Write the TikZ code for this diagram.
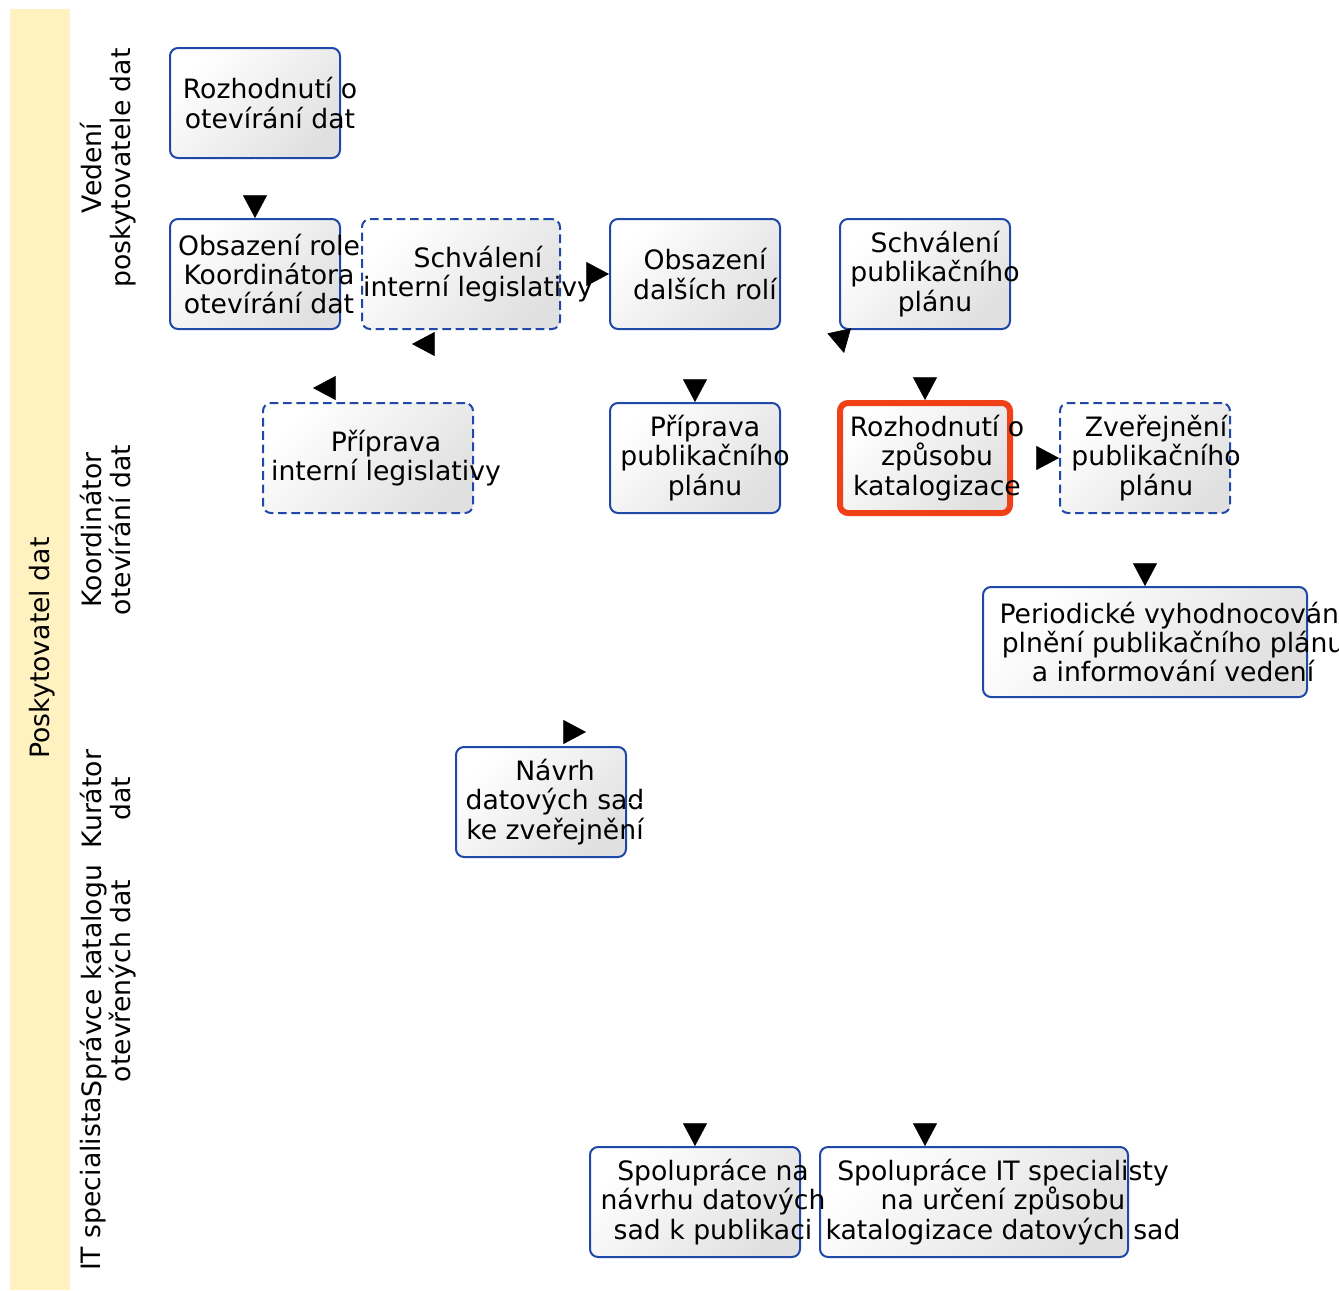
\documentclass[tikz,border=0pt]{standalone}
\usepackage{fontspec}
\setmainfont{DejaVu Sans}
\usepackage{tikz}
\usetikzlibrary{arrows.meta}
\definecolor{laneyellow}{RGB}{255,242,192}
\definecolor{boxblue}{RGB}{32,72,168}
\definecolor{boxred}{RGB}{240,64,24}

\begin{document}
\begin{tikzpicture}[x=0.75pt, y=-0.75pt,
  font=\fontsize{20}{22}\selectfont,
  task/.style={draw=boxblue, line width=1.5pt, rounded corners=6pt, top color=white, bottom color=black!12, shading angle=45, minimum width=127.5pt, minimum height=82.5pt, inner sep=0pt},
  dashtask/.style={task, dash pattern=on 6.5pt off 3.5pt},
  redtask/.style={task, draw=boxred, line width=4.5pt},
  txt/.style={align=center, inner sep=0pt},
  lane/.style={rotate=90, anchor=north, align=center, inner sep=0pt},
  flow/.style={draw=white, line width=0.4pt, -{Triangle[length=17pt, width=18pt, color=black, fill=black]}}]
\useasboundingbox (0,0) rectangle (1339,1290);
\fill[laneyellow] (10,9) rectangle (70,1290);
\node[rotate=90] (pool) at (42,648) {Poskytovatel dat};
\node[lane] (l1) at (80,168) {Vedení\\poskytovatele dat};
\node[lane] (l2) at (80,530) {Koordinátor\\otevírání dat};
\node[lane] (l3) at (80,799) {Kurátor\\dat};
\node[lane] (l4) at (80,981) {Správce katalogu\\otevřených dat};
\node[lane] (l5) at (80,1184) {IT specialista};

\node[task] (n1) at (255,103) {};
\node[task] (n2) at (255,274) {};
\node[dashtask, minimum width=148.5pt] (n3) at (461,274) {};
\node[task] (n4) at (695,274) {};
\node[task] (n5) at (925,274) {};
\node[dashtask, minimum width=157.5pt] (n6) at (368,458) {};
\node[task] (n7) at (695,458) {};
\node[redtask] (n8) at (925,458) {};
\node[dashtask] (n9) at (1145,458) {};
\node[task, minimum width=243pt] (n10) at (1145,642) {};
\node[task] (n11) at (541,802) {};
\node[task, minimum width=157.5pt] (n12) at (695,1202) {};
\node[task, minimum width=231pt] (n13) at (974,1202) {};

\node[txt] (n1t) at (270,103) {Rozhodnutí o\\otevírání dat};
\node[txt] (n2t) at (269,274) {Obsazení role\\Koordinátora\\otevírání dat};
\node[txt] (n3t) at (478,274) {Schválení\\interní legislativy};
\node[txt] (n4t) at (705,274) {Obsazení\\dalších rolí};
\node[txt] (n5t) at (935,274) {Schválení\\publikačního\\plánu};
\node[txt] (n6t) at (386,458) {Příprava\\interní legislativy};
\node[txt] (n7t) at (705,458) {Příprava\\publikačního\\plánu};
\node[txt] (n8t) at (937,458) {Rozhodnutí o\\způsobu\\katalogizace};
\node[txt] (n9t) at (1156,458) {Zveřejnění\\publikačního\\plánu};
\node[txt] (n10t) at (1173,642) {Periodické vyhodnocování\\plnění publikačního plánu\\a informování vedení};
\node[txt] (n11t) at (555,802) {Návrh\\datových sad\\ke zveřejnění};
\node[txt] (n12t) at (713,1202) {Spolupráce na\\návrhu datových\\sad k publikaci};
\node[txt] (n13t) at (1003,1202) {Spolupráce IT specialisty\\na určení způsobu\\katalogizace datových sad};

\coordinate (c1) at (412,344);
\coordinate (c2) at (313,388);
\coordinate (c3) at (844,353);
\coordinate (c4) at (586,732);
\draw[flow] (n1.south) -- (n2.north);
\draw[flow] (n3.east) -- (n4.west);
\draw[flow] (n3.south) |- (c1);
\draw[flow] (n6.north) |- (c2);
\draw[flow] (n5.south west) -- (c3);
\draw[flow] (n4.south) -- (n7.north);
\draw[flow] (n5.south) -- (n8.north);
\draw[flow] (n8.east) -- (n9.west);
\draw[flow] (n9.south) -- (n10.north);
\draw[flow] (n11.north west) |- (c4);
\draw[flow] (n11.east) -| (n12.north);
\draw[flow] (n8.south) -- (n8.south |- n13.north);
\end{tikzpicture}
\end{document}
